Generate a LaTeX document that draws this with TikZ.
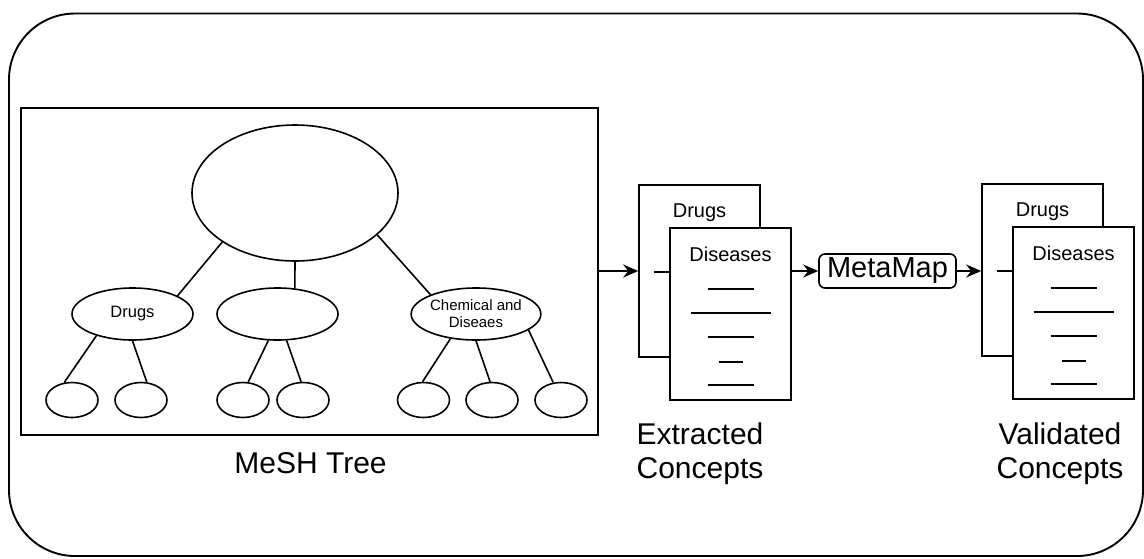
\documentclass[tikz,border=0pt]{standalone}
\usepackage{fontspec}
\setmainfont{Liberation Sans}
\usetikzlibrary{shapes.geometric,arrows.meta,calc}

\tikzset{
  frame/.style={draw, line width=1.9pt, inner sep=0pt},
  oval/.style={draw, ellipse, inner sep=0pt, line width=1.6pt},
  leaf/.style={oval, minimum width=52pt, minimum height=35pt},
  branch/.style={oval, minimum width=121pt, minimum height=52pt},
  treeedge/.style={line width=1.6pt},
  arr/.style={line width=1.6pt, -{Stealth[length=15pt,width=13pt,inset=5pt]}},
  page/.style={draw, fill=white, rectangle, line width=1.6pt,
    minimum width=121pt, minimum height=172pt, inner sep=0pt},
  rule/.style={line width=1.3pt},
  caption/.style={inner sep=0pt, font=\fontsize{30}{34}\selectfont},
  doctext/.style={inner sep=0pt, font=\fontsize{20}{24}\selectfont},
  % a stack of two pages: the back one titled "Drugs", the front one "Diseases"
  pics/docstack/.style={code={
    \node[page] (-back) at (0,0) {};
    \draw[rule] (-46,1) -- (-20,1);
    \node[doctext, anchor=base] (-backtitle) at (0,-54) {Drugs};
    \node[page] (-front) at (31,43) {};
    \node[doctext, anchor=base] (-fronttitle) at (31,-10) {Diseases};
    \draw[rule] (8,18)  -- (54,18);
    \draw[rule] (-9,42) -- (71,42);
    \draw[rule] (8,66)  -- (54,66);
    \draw[rule] (19,91) -- (43,91);
    \draw[rule] (8,114) -- (54,114);
  }}
}

\begin{document}
\begin{tikzpicture}[x=1pt, y=-1pt]
\useasboundingbox (0,0) rectangle (1144,558);

% outer rounded frame
\node[frame, rounded corners=66pt, minimum width=1134pt, minimum height=542.5pt]
  (outer) at (576,284.75) {};

% MeSH tree panel
\node[frame, minimum width=577pt, minimum height=327pt] (mesh) at (309.5,271.5) {};

% tree nodes
\node[oval, minimum width=206pt, minimum height=136pt] (root) at (295,193) {};
\node[branch, font=\fontsize{16.5}{19}\selectfont] (drugs) at (132.5,314) {Drugs};
\node[branch] (midb) at (277.5,314) {};
\node[branch, align=center, font=\fontsize{15}{17}\selectfont] (chem) at (476,314)
  {Chemical and\\Diseaes};

\node[leaf] (l1) at (72,400) {};
\node[leaf] (l2) at (141,400) {};
\node[leaf] (l3) at (243,400) {};
\node[leaf] (l4) at (303,400) {};
\node[leaf] (l5) at (423.5,400) {};
\node[leaf] (l6) at (492,400) {};
\node[leaf] (l7) at (561,400) {};

% tree edges
\draw[treeedge] (root.214) -- (drugs.22);
\draw[treeedge] (root.270) -- (midb.56);
\draw[treeedge] (root.333) -- (chem.157);
\draw[treeedge] (drugs.211) -- (l1.114);
\draw[treeedge] (drugs.270) -- (l2.72);
\draw[treeedge] (midb.251) -- (l3.74);
\draw[treeedge] (midb.289) -- (l4.96);
\draw[treeedge] (chem.224) -- (l5.93);
\draw[treeedge] (chem.270) -- (l6.96);
\draw[treeedge] (chem.343) -- (l7.114);

\node[caption, anchor=base] (meshlbl) at (310.5,473) {MeSH Tree};

% extracted and validated concept stacks
\pic (ext) at (699.5,271) {docstack};
\pic (val) at (1042.5,270) {docstack};

% multi-line captions: base anchor sits on the last line
\node[caption, align=center, anchor=base] (extlbl) at (700,478) {Extracted\\Concepts};
\node[caption, align=center, anchor=base] (vallbl) at (1060,478) {Validated\\Concepts};

% MetaMap step
\node[draw, rounded corners=6pt, line width=1.6pt, minimum width=137pt,
  minimum height=34pt, inner sep=0pt, font=\fontsize{29}{33}\selectfont]
  (mm) at (887.5,271) {MetaMap};

% flow arrows
\draw[arr] (mesh.east |- ext-back.west) -- (ext-back.west);
\draw[arr] (ext-front.east |- mm.west) -- (mm.west);
\draw[arr] (mm.east) -- (mm.east -| val-back.west);
\end{tikzpicture}
\end{document}
